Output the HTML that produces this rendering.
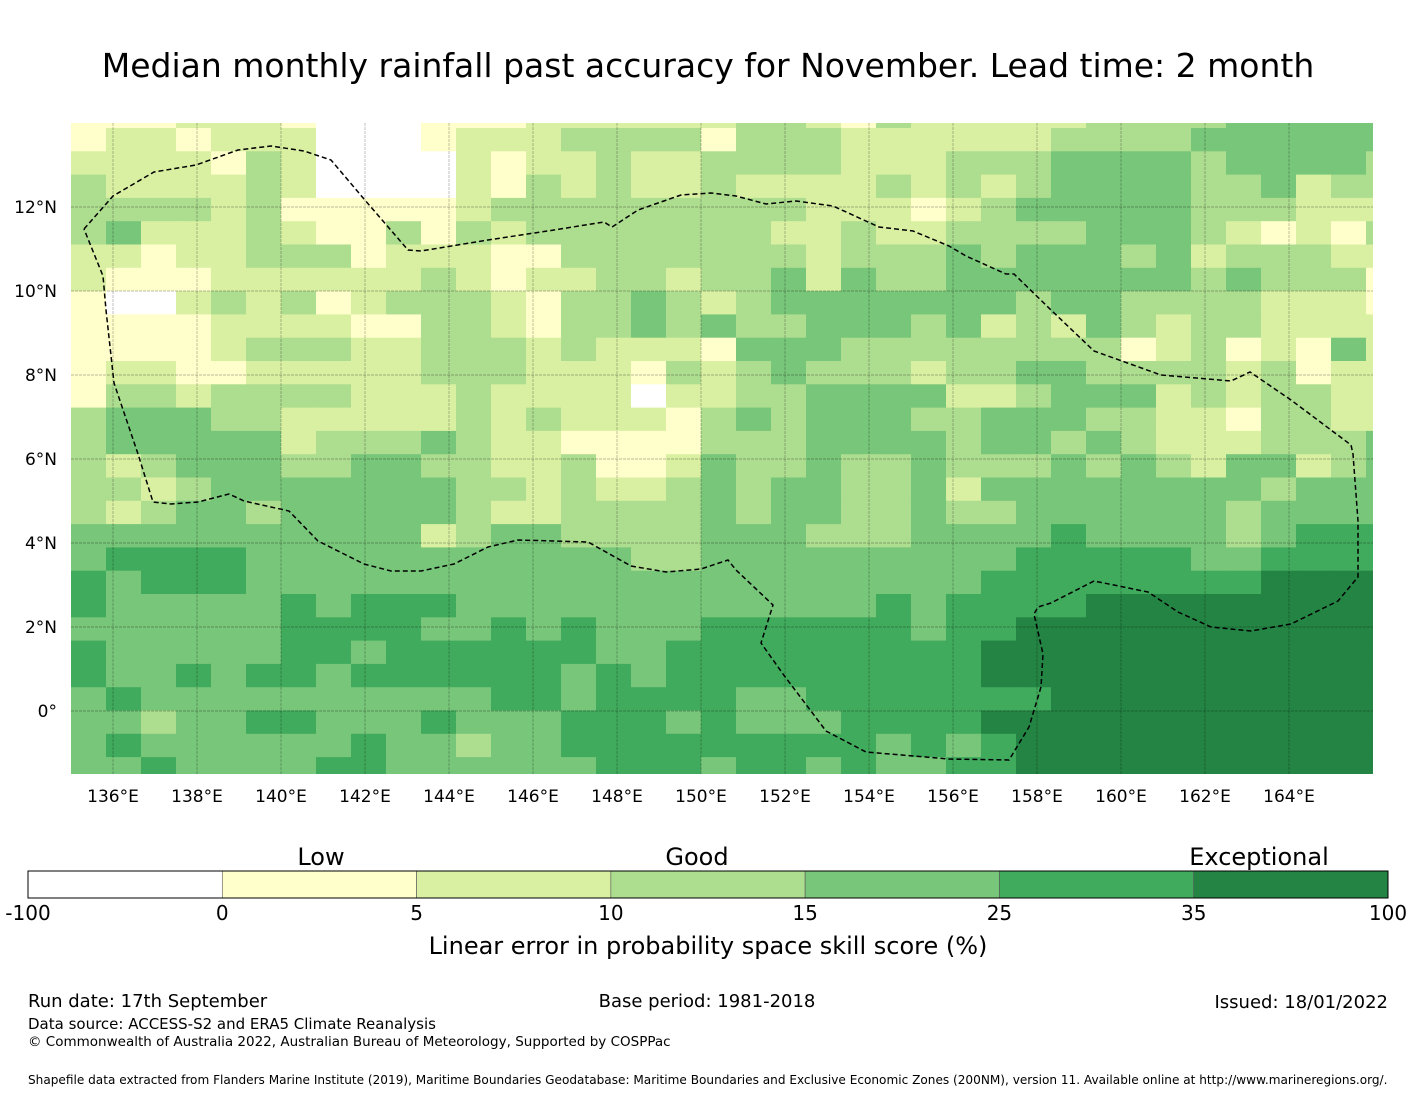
<!DOCTYPE html>
<html><head><meta charset="utf-8"><style>
html,body{margin:0;padding:0;background:#fff;}
svg{display:block;font-family:"DejaVu Sans","Liberation Sans",sans-serif;}
</style></head><body>
<svg id="chart" width="1416" height="1095" viewBox="0 0 1416 1095" xmlns="http://www.w3.org/2000/svg">
<text x="708" y="77" text-anchor="middle" font-size="33" fill="#000">Median monthly rainfall past accuracy for November. Lead time: 2 month</text>
<defs><clipPath id="mapclip"><rect x="71" y="123" width="1302" height="651"/></clipPath></defs>
<g id="map" clip-path="url(#mapclip)"></g>
<g id="axes"></g>
<g id="cbar"></g>
<text x="321" y="865" text-anchor="middle" font-size="24">Low</text>
<text x="697" y="865" text-anchor="middle" font-size="24">Good</text>
<text x="1259" y="865" text-anchor="middle" font-size="24">Exceptional</text>
<text x="708" y="954" text-anchor="middle" font-size="24">Linear error in probability space skill score (%)</text>
<text x="28" y="1007" font-size="18">Run date: 17th September</text>
<text x="707" y="1007" text-anchor="middle" font-size="18">Base period: 1981-2018</text>
<text x="1388" y="1008" text-anchor="end" font-size="18">Issued: 18/01/2022</text>
<text x="28" y="1029" font-size="15">Data source: ACCESS-S2 and ERA5 Climate Reanalysis</text>
<text x="28" y="1046" font-size="13.5">© Commonwealth of Australia 2022, Australian Bureau of Meteorology, Supported by COSPPac</text>
<text x="28" y="1084" font-size="12.1">Shapefile data extracted from Flanders Marine Institute (2019), Maritime Boundaries Geodatabase: Maritime Boundaries and Exclusive Economic Zones (200NM), version 11. Available online at http://www.marineregions.org/.</text>
</svg>
<script>
const gridRows = [
"11122210001112222223321322222333344444",
"12212220001222333313332222223333444444",
"22221320000212232233332223334444344443",
"32222320000213232232222323234444334233",
"33332311111233333333322212344444333222",
"34222321131323333333223223333444321213",
"22122333122211333333323334344434233322",
"21112222223212233233424334444444343331",
"10023231233321334323444444434433332221",
"11112222113321334343344434232432332222",
"11112333223332322214443333333312312142",
"12211222223332221323433323344333323122",
"13323333222322220223344442234442323322",
"34443322222323222134344433444332213322",
"34444423334322111133344443443432223334",
"32344433443322311243343343334343244234",
"33234444444332322343443342444444443444",
"32344344444322333343443343344444434444",
"44444444442344333344433344445444434555",
"45555444444444443344444444455555445555",
"54555444444444444444444444555555556666",
"54444454555444444444444545555666666666",
"44444455554454544455555545566666666666",
"54444455455555544555555555666666666666",
"54454554555555454555555555666666666666",
"45444444444455455554455555556666666666",
"44344554445444555454445555666666666666",
"45444444544344555555555454566666666666",
"44544445544444455545545445566666666666"
];
const levelColors = ["#ffffff","#ffffcc","#d9f0a3","#addd8e","#78c679","#41ab5d","#238443"];
const lonTicks = [136,138,140,142,144,146,148,150,152,154,156,158,160,162,164];
const latTicks = [12,10,8,6,4,2,0];
const cbarTicks = ["-100","0","5","10","15","25","35","100"];
const boundary = [[84,229],[113,196],[154,172],[196,165],[238,150],[271,146],[304,151],[331,160],[364,199],[408,250],[421,251],[488,240],[554,230],[604,222],[612,227],[638,210],[681,195],[711,193],[736,196],[766,204],[796,201],[833,206],[879,227],[913,231],[949,246],[966,256],[1006,274],[1014,274],[1051,310],[1094,351],[1161,375],[1231,381],[1250,372],[1291,400],[1351,445],[1353,454],[1358,521],[1358,577],[1338,601],[1291,624],[1251,631],[1211,627],[1178,612],[1148,592],[1094,581],[1051,603],[1038,607],[1034,614],[1043,654],[1041,687],[1029,727],[1009,760],[949,759],[866,752],[826,731],[783,674],[761,643],[773,605],[736,570],[728,560],[701,569],[666,572],[631,566],[588,542],[554,541],[518,540],[488,547],[454,564],[421,571],[391,571],[364,564],[318,541],[289,511],[244,501],[229,494],[198,502],[171,504],[153,502],[138,454],[114,383],[106,310],[103,276],[84,229]];
const NS="http://www.w3.org/2000/svg";
function xLon(lon){return 113+(lon-136)*42;}
function yLat(lat){return 711-lat*42;}
function colX(c){return 71+35*c;}
function rowY(r){return r===0?123:128+23.3*(r-1);}
function rowH(r){return r===0?5:23.3;}
function mk(tag,attrs,parent){const e=document.createElementNS(NS,tag);for(const k in attrs)e.setAttribute(k,attrs[k]);parent.appendChild(e);return e;}
const map=document.getElementById('map');
gridRows.forEach((row,r)=>{
  for(let c=0;c<row.length;c++){
    const v=+row[c];
    const el=mk('rect',{x:colX(c),y:rowY(r),width:35.6,height:rowH(r)+0.6,fill:levelColors[v]},map);
    
    
  }
});
const axes=document.getElementById('axes');
lonTicks.forEach(l=>{
  const g=mk('line',{x1:xLon(l),x2:xLon(l),y1:123,y2:774,stroke:'#000','stroke-opacity':0.28,'stroke-width':0.9,'stroke-dasharray':'3,1'},axes);
  
  
  const t=mk('text',{x:xLon(l),y:802,'text-anchor':'middle','font-size':17},axes);
  t.textContent=l+'°E';
  
  
});
latTicks.forEach(l=>{
  const g=mk('line',{x1:71,x2:1373,y1:yLat(l),y2:yLat(l),stroke:'#000','stroke-opacity':0.28,'stroke-width':0.9,'stroke-dasharray':'3,1'},axes);
  
  
  const t=mk('text',{x:57,y:yLat(l)+6,'text-anchor':'end','font-size':17},axes);
  t.textContent=l===0?'0°':l+'°N';
  
  
});
const eez=mk('polyline',{points:boundary.map(p=>p.join(',')).join(' '),fill:'none',stroke:'#000','stroke-width':1.5,'stroke-dasharray':'5,3'},axes);


const cb=document.getElementById('cbar');
const segW=1360/levelColors.length;
levelColors.forEach((col,i)=>{
  const r=mk('rect',{x:28+segW*i,y:871,width:segW,height:27,fill:col,stroke:'#555','stroke-width':0.6},cb);
  
  
});
mk('rect',{x:28,y:871,width:1360,height:27,fill:'none',stroke:'#000','stroke-width':1},cb);
cbarTicks.forEach((t,i)=>{
  const e=mk('text',{x:28+segW*i,y:920,'text-anchor':'middle','font-size':20},cb);
  e.textContent=t;
  
  
});
</script>
</body></html>
